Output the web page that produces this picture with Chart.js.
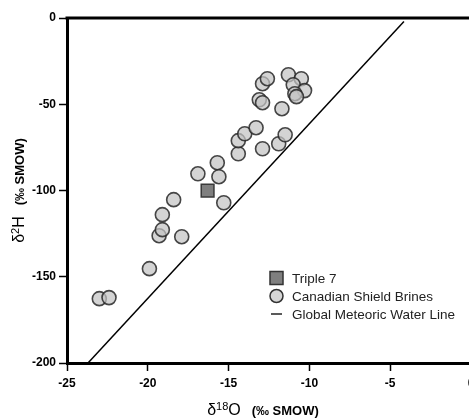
<!DOCTYPE html>
<html><head><meta charset="utf-8">
<script src="https://cdn.jsdelivr.net/npm/chart.js@4.4.1/dist/chart.umd.min.js"></script>
<style>
html,body{margin:0;padding:0;background:#fff;overflow:hidden;}
#wrap{width:469px;height:418px;overflow:hidden;position:relative;background:#fff;}
canvas{display:block;}
</style></head><body>
<div id="wrap"><canvas id="c" width="490" height="418"></canvas></div>
<script>
// ---- data ----
const xTickValues = [-25, -20, -15, -10, -5, 0];
const yTickValues = [-200, -150, -100, -50, 0];

const brinesX = [-23.0, -22.4, -19.9, -19.3, -19.1, -19.1, -17.9, -18.4, -16.9, -15.7,
                 -15.6, -15.3, -14.4, -14.4, -14.0, -13.3, -12.9, -11.9, -11.5, -13.1,
                 -12.9, -12.9, -12.6, -11.7, -11.3, -10.5, -11.0, -10.3, -10.9, -10.8];
const brinesY = [-162.7, -162.1, -145.3, -126.2, -122.7, -114.0, -126.8, -105.3, -90.3, -83.9,
                 -92.0, -107.1, -78.7, -71.1, -67.1, -63.6, -75.8, -72.9, -67.7, -47.4,
                 -49.1, -38.1, -35.2, -52.6, -32.9, -35.2, -38.7, -42.1, -43.9, -45.6];

const triple7X = [-16.3];
const triple7Y = [-100.1];

const gmwlX = [-23.7, -4.15];
const gmwlY = [-200, -2];

const seriesLabels = ['Triple 7', 'Canadian Shield Brines', 'Global Meteoric Water Line'];
const xTitleParts = [['δ', 'n'], ['18', 's'], ['O', 'n'], ['   (‰ SMOW)', 'b']];
const yTitleParts = [['δ', 'n'], ['2', 's'], ['H', 'n'], ['   (‰ SMOW)', 'b']];

// ---- styling ----
const FAM = '"Liberation Sans", Arial, Helvetica, sans-serif';
const zip = (xs, ys) => xs.map((x, i) => ({x: x, y: ys[i]}));

const fontFor = k => k === 'n' ? '16px ' + FAM : k === 's' ? '11px ' + FAM : 'bold 13px ' + FAM;

function drawParts(ctx, parts, cx, cy) {
  let total = 0;
  parts.forEach(p => { ctx.font = fontFor(p[1]); total += ctx.measureText(p[0]).width; });
  let x = cx - total / 2;
  ctx.textBaseline = 'alphabetic';
  ctx.textAlign = 'left';
  parts.forEach(p => {
    ctx.font = fontFor(p[1]);
    const dy = p[1] === 's' ? -5 : 0;
    ctx.fillText(p[0], x, cy + 6 + dy);
    x += ctx.measureText(p[0]).width;
  });
}

const framePlugin = {
  id: 'frameAndText',
  afterDraw(chart) {
    const ctx = chart.ctx, a = chart.chartArea;
    ctx.save();
    // top frame line
    ctx.strokeStyle = '#000';
    ctx.lineWidth = 3;
    ctx.beginPath();
    ctx.moveTo(a.left - 1.5, a.top);
    ctx.lineTo(chart.width, a.top);
    ctx.stroke();
    // axis titles
    ctx.fillStyle = '#000';
    drawParts(ctx, xTitleParts, (a.left + a.right) / 2 - 6, 409);
    ctx.save();
    ctx.translate(18, (a.top + a.bottom) / 2);
    ctx.rotate(-Math.PI / 2);
    drawParts(ctx, yTitleParts, 0, 0);
    ctx.restore();
    // legend
    const lx = 270, ly = [278, 296, 314], tx = 292;
    ctx.lineWidth = 1.5;
    ctx.strokeStyle = '#333';
    ctx.fillStyle = '#7f7f7f';
    ctx.fillRect(lx, ly[0] - 6.5, 13, 13);
    ctx.strokeRect(lx, ly[0] - 6.5, 13, 13);
    ctx.fillStyle = '#d6d6d6';
    ctx.beginPath();
    ctx.arc(lx + 6.5, ly[1], 6.5, 0, Math.PI * 2);
    ctx.fill(); ctx.stroke();
    ctx.strokeStyle = '#000';
    ctx.lineWidth = 1.3;
    ctx.beginPath();
    ctx.moveTo(lx + 1, ly[2]); ctx.lineTo(lx + 12, ly[2]);
    ctx.stroke();
    ctx.fillStyle = '#222';
    ctx.font = '13.5px ' + FAM;
    ctx.textBaseline = 'middle';
    ctx.textAlign = 'left';
    seriesLabels.forEach((t, i) => ctx.fillText(t, tx, ly[i] + 1));
    ctx.restore();
  }
};

const tickFont = {family: FAM, size: 12, weight: 'bold'};

new Chart(document.getElementById('c'), {
  type: 'scatter',
  data: {
    datasets: [
      {
        label: seriesLabels[2],
        type: 'line',
        data: zip(gmwlX, gmwlY),
        borderColor: '#000',
        borderWidth: 1.5,
        pointRadius: 0,
        fill: false,
        order: 3
      },
      {
        label: seriesLabels[1],
        data: zip(brinesX, brinesY),
        pointStyle: 'circle',
        pointRadius: 7,
        pointHoverRadius: 7,
        backgroundColor: 'rgba(195,195,195,0.72)',
        borderColor: 'rgba(40,40,40,0.85)',
        borderWidth: 1.6,
        order: 2
      },
      {
        label: seriesLabels[0],
        data: zip(triple7X, triple7Y),
        pointStyle: 'rect',
        pointRadius: 9,
        pointHoverRadius: 9,
        backgroundColor: '#7f7f7f',
        borderColor: '#3a3a3a',
        borderWidth: 1.5,
        order: 1
      }
    ]
  },
  options: {
    responsive: false,
    animation: false,
    events: [],
    layout: {padding: {top: 18, right: 19, left: 0, bottom: 0}},
    plugins: {legend: {display: false}, tooltip: {enabled: false}, title: {display: false}},
    scales: {
      x: {
        type: 'linear', min: -25, max: 0,
        afterBuildTicks: s => { s.ticks = xTickValues.map(v => ({value: v})); },
        afterFit: s => { s.height = 55; },
        border: {display: true, width: 3, color: '#000'},
        grid: {display: true, drawOnChartArea: false, drawTicks: true, tickLength: 8, tickWidth: 1.5, tickColor: '#000'},
        ticks: {color: '#000', font: tickFont, padding: 5, maxRotation: 0, autoSkip: false}
      },
      y: {
        type: 'linear', min: -200, max: 0,
        afterBuildTicks: s => { s.ticks = yTickValues.map(v => ({value: v})); },
        afterFit: s => { s.width = 67; },
        border: {display: true, width: 3, color: '#000'},
        grid: {display: true, drawOnChartArea: false, drawTicks: true, tickLength: 8, tickWidth: 1.5, tickColor: '#000'},
        ticks: {color: '#000', font: tickFont, padding: 3, autoSkip: false}
      }
    }
  },
  plugins: [framePlugin]
});
</script>
</body></html>
